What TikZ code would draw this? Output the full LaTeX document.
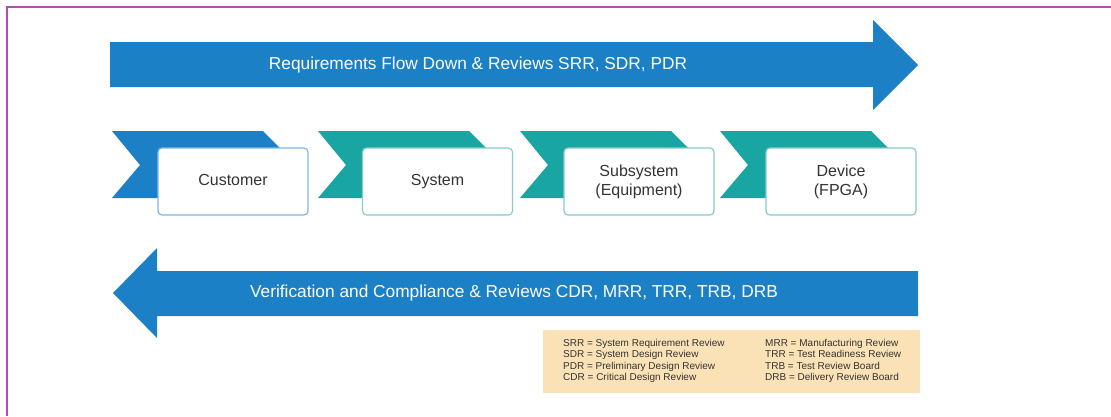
\documentclass[tikz,border=0pt]{standalone}
\usepackage{fontspec}
\setmainfont{Liberation Sans}
\definecolor{arrowblue}{HTML}{1B80C6}
\definecolor{chevblue}{HTML}{1B80C6}
\definecolor{chevteal}{HTML}{19A5A2}
\definecolor{legendfill}{HTML}{FBE2B6}
\definecolor{framemag}{HTML}{B94AAE}
\definecolor{boxblue}{HTML}{7DB8E4}
\definecolor{boxteal}{HTML}{86CCC8}
\definecolor{txtgray}{HTML}{333333}
\begin{document}
\begin{tikzpicture}[x=1pt,y=-1pt,
  arrowtext/.style={text=white, font=\fontsize{17.3}{20}\selectfont, inner sep=0pt},
  stagebox/.style={draw=#1, line width=1.2pt, fill=white, rounded corners=4pt,
     minimum width=150pt, minimum height=67pt, align=center, text=txtgray,
     font=\fontsize{16}{19}\selectfont, inner sep=0pt},
  legtext/.style={anchor=west, text=txtgray, font=\fontsize{10}{11.6}\selectfont, inner sep=0pt, align=left}]
\useasboundingbox (0,0) rectangle (1111,416);
\fill[white] (0,0) rectangle (1111,416);
\draw[framemag, line width=2pt] (7,416) -- (7,7) -- (1111,7);

% top arrow
\fill[arrowblue] (110,42) -- (873,42) -- (873,20) -- (918,65) -- (873,110) -- (873,87) -- (110,87) -- cycle;
\node[arrowtext] (req) at (478,65) {Requirements Flow Down \& Reviews SRR, SDR, PDR};

% chevrons
\foreach \x/\c in {112/chevblue,318/chevteal,520/chevteal,720/chevteal}{
  \fill[\c] (\x,131) -- ++(151,0) -- ++(34,34) -- ++(-34,33) -- (\x,198) -- ++(28,-33) -- cycle;
}
\node[stagebox=boxblue] (cust) at (233,181.5) {\strut Customer};
\node[stagebox=boxteal] (sys) at (437.5,181.5) {\strut System};
\node[stagebox=boxteal] (sub) at (639,181.5) {Subsystem\\(Equipment)};
\node[stagebox=boxteal] (dev) at (841,181.5) {Device\\(FPGA)};

% bottom arrow
\fill[arrowblue] (918,271) -- (157,271) -- (157,248) -- (113,293) -- (157,338) -- (157,316) -- (918,316) -- cycle;
\node[arrowtext] (ver) at (514,293) {Verification and Compliance \& Reviews CDR, MRR, TRR, TRB, DRB};

% legend
\fill[legendfill] (543,330) rectangle (920,393);
\node[legtext] (leg1) at (563,361) {SRR = System Requirement Review\\SDR = System Design Review\\PDR = Preliminary Design Review\\CDR = Critical Design Review};
\node[legtext] (leg2) at (765,361) {MRR = Manufacturing Review\\TRR = Test Readiness Review\\TRB = Test Review Board\\DRB = Delivery Review Board};
\end{tikzpicture}
\end{document}
